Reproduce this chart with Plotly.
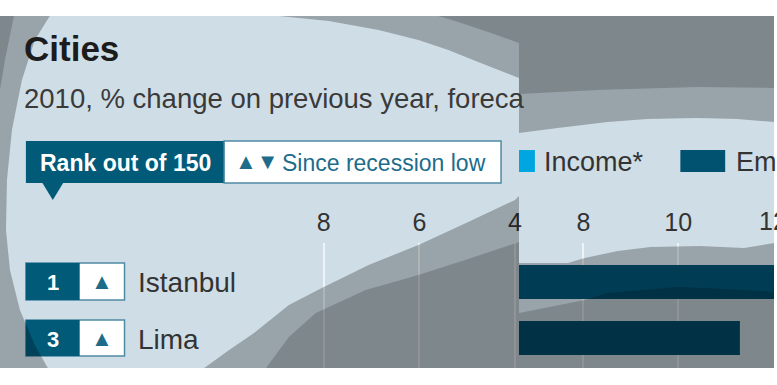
import plotly.graph_objects as go

W, H = 777, 385

# ---- data ----
cities = ["Istanbul", "Lima"]
ranks = ["1", "3"]
rank_moves = ["▲", "▲"]
employment = [13.0, 11.3]          # Istanbul runs past the visible edge
income = [None, None]              # no income bar visible in the crop
left_ticks = [8, 6, 4]
right_ticks = [8, 10, 12]
title = "Cities"
subtitle = "2010, % change on previous year, foreca"

# ---- style ----
FONT = "Liberation Sans, Arial, sans-serif"
BG = "#cfdee6"
TEAL = "#005a78"
TEAL_TXT = "#1d6c8a"
BORDER = "#4f8ba4"
INC = "#00a6df"
EMP = "#005270"
TXT = "#333333"
RIGHT_MAX = 12.02


def X(x):
    return x / W


def Y(y):
    return 1 - y / H


def path(pts):
    return "M " + " L ".join(f"{X(x):.5f},{Y(y):.5f}" for x, y in pts) + " Z"


def rect(x0, y0, x1, y1, fill, line=None, lw=0, layer="below"):
    return dict(type="rect", xref="paper", yref="paper", x0=X(x0), x1=X(x1),
                y0=Y(y1), y1=Y(y0), fillcolor=fill, layer=layer,
                line=dict(color=line or fill, width=lw))


fig = go.Figure()
fig.add_trace(go.Bar(y=cities, x=income, orientation="h", xaxis="x", yaxis="y",
                     marker_color=INC, width=0.607, showlegend=False, hoverinfo="skip"))
fig.add_trace(go.Bar(y=cities, x=employment, orientation="h", xaxis="x2", yaxis="y",
                     marker=dict(color=EMP, line=dict(width=0)), width=0.607,
                     showlegend=False))

shapes = [rect(0, 16, 777, 368, BG)]
# header: rank box + pointer, since-recession box
shapes.append(rect(26, 141, 225, 183, TEAL))
shapes.append(dict(type="path", xref="paper", yref="paper", layer="below",
                   path=path([(42, 182), (64, 182), (53, 200)]), fillcolor=TEAL,
                   line=dict(width=0)))
shapes.append(rect(225, 141, 503, 183, "white", BORDER, 1.5))
# legend swatches
shapes.append(rect(521, 150, 537, 172, INC))
shapes.append(rect(683, 150, 728, 172, EMP))
# row rank boxes
rows_y = [(263, 300), (320, 356)]
for (y0, y1) in rows_y:
    shapes.append(rect(26, y0, 125, y1, "white", BORDER, 1.5))
    shapes.append(rect(26, y0, 80, y1, TEAL))

# shadow overlays
MED = "rgba(0,0,0,0.26)"
DARK = "rgba(0,0,0,0.175)"
overlays = [
    (MED, [(0, 16), (50, 16), (35, 40), (22, 80), (12, 130), (7, 180), (6, 230),
           (10, 270), (20, 310), (35, 345), (48, 368), (0, 368)]),
    (DARK, [(0, 16), (14, 16), (5, 60), (0, 90)]),
    (MED, [(280, 16), (521, 16), (521, 78), (480, 62), (450, 50), (420, 40),
           (380, 30), (330, 21)]),
    (DARK, [(440, 16), (521, 16), (521, 43), (490, 32), (460, 22)]),
    (MED, [(521, 16), (777, 16), (777, 122), (740, 119), (700, 118), (650, 119),
           (610, 122), (560, 128), (521, 133)]),
    (DARK, [(521, 16), (777, 16), (777, 88), (700, 87), (600, 90), (521, 94)]),
    (MED, [(205, 368), (230, 350), (255, 333), (290, 305), (323, 288), (370, 265),
           (420, 245), (470, 222), (517, 200), (521, 196), (521, 368)]),
    (DARK, [(267, 368), (290, 337), (317, 313), (367, 290), (420, 275), (470, 259),
            (521, 242), (521, 368)]),
    (MED, [(521, 263), (570, 263), (587, 258), (620, 251), (653, 247), (703, 246),
           (747, 248), (777, 243), (777, 368), (521, 368)]),
    (DARK, [(521, 313), (587, 300), (610, 293), (680, 287), (730, 289), (777, 292),
            (777, 368), (521, 368)]),
]
for col, pts in overlays:
    shapes.append(dict(type="path", xref="paper", yref="paper", layer="above",
                       path=path(pts), fillcolor=col, line=dict(width=0)))


def ann(text, x, y, size, color=TXT, anchor="left", bold=False):
    return dict(text=f"<b>{text}</b>" if bold else text, x=X(x), y=Y(y),
                xref="paper", yref="paper", xanchor=anchor, yanchor="middle",
                showarrow=False, font=dict(family=FONT, size=size, color=color))


annotations = [
    ann(title, 22, 49, 35, "#1c1c1c", bold=True),
    ann(subtitle, 22, 99, 27.5, "#3a3a3a"),
    ann("Rank out of 150", 38, 163, 23, "white", bold=True),
    ann("▲▼", 234, 162, 22, TEAL_TXT),
    ann("Since recession low", 281, 163, 23, TEAL_TXT),
    ann("Income*", 544, 162, 27),
    ann("Employment", 737, 162, 27),
]
for i, (c, r, m) in enumerate(zip(cities, ranks, rank_moves)):
    yc = (rows_y[i][0] + rows_y[i][1]) / 2
    annotations.append(ann(r, 53, yc + 1, 22, "white", "center", bold=True))
    annotations.append(ann(m, 102, yc, 22, TEAL_TXT, "center"))
    annotations.append(ann(c, 137, yc + 1, 28))

# right-axis ticks that sit on the very edge of the crop: label via the x2 scale
shown_right = [t for t in right_ticks if t < RIGHT_MAX - 0.1]
for t in right_ticks:
    if t not in shown_right:
        annotations.append(dict(text=str(t), x=t, xref="x2", y=Y(221), yref="paper",
                                xanchor="center", yanchor="middle", showarrow=False,
                                font=dict(family=FONT, size=25, color=TXT)))

axis_common = dict(side="top", showgrid=True, gridcolor="#edf3f6", gridwidth=2,
                   zeroline=False, showline=False, ticks="", anchor="y",
                   tickfont=dict(family=FONT, size=25, color=TXT),
                   ticklabelstandoff=6, fixedrange=True)

fig.update_layout(
    width=W, height=H, margin=dict(l=0, r=0, t=0, b=0),
    paper_bgcolor="white", plot_bgcolor="rgba(0,0,0,0)",
    font=dict(family=FONT, color=TXT), bargap=0.39,
    xaxis=dict(domain=[0, X(521)], range=[14.771, 3.917], tickvals=left_ticks,
               **axis_common),
    xaxis2=dict(domain=[X(521), 1], range=[6.639, RIGHT_MAX], tickvals=right_ticks,
                **axis_common),
    yaxis=dict(domain=[Y(368), Y(243)], type="category", range=[1.536, -0.696],
               visible=False, anchor="x", fixedrange=True),
    shapes=shapes, annotations=annotations, showlegend=False,
)

fig.write_html("out.html", config={"displayModeBar": False})
